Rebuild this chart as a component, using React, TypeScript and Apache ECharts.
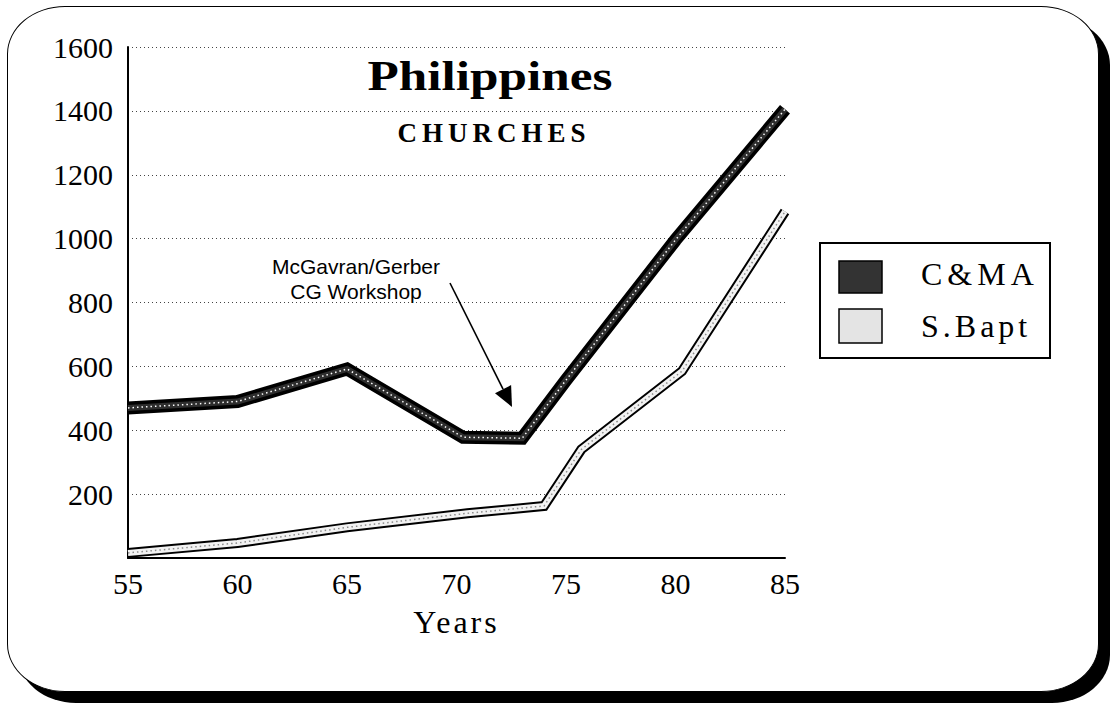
import React, { useEffect, useRef } from 'react';
import * as echarts from 'echarts';

// ---- data ----
const xTicks = [55, 60, 65, 70, 75, 80, 85];
const yTicks = [0, 200, 400, 600, 800, 1000, 1200, 1400, 1600];

const cmaYears = [55, 60, 65, 70.3, 73, 75, 80, 85];
const cmaChurches = [470, 490, 592, 378, 375, 557, 996, 1405];

const sbaptYears = [55, 60, 65, 70.5, 74, 75.7, 80.3, 85];
const sbaptChurches = [16, 47, 96, 140, 163, 340, 585, 1085];

const seriesNames = ['C&MA', 'S.Bapt'];
const titleText = 'Philippines';
const subtitleText = 'CHURCHES';
const xAxisName = 'Years';
const noteLines = ['McGavran/Gerber', 'CG Workshop'];

const SERIF = '"Liberation Serif", "Times New Roman", Times, serif';
const SANS = '"Liberation Sans", Arial, Helvetica, sans-serif';

const letterSpacing: Record<string, number> = {
  CHURCHES: 5,
  'C&MA': 5,
  'S.Bapt': 4,
  Years: 3,
};

function pairs(xs: number[], ys: number[]) {
  return xs.map((x, i) => [x, ys[i]]);
}

function applySpacing(root: HTMLElement) {
  root.querySelectorAll('svg text').forEach((t) => {
    const s = letterSpacing[(t.textContent || '').trim()];
    if (s !== undefined) (t as SVGTextElement).style.letterSpacing = s + 'px';
  });
}

export default function App() {
  const ref = useRef<HTMLDivElement>(null);

  useEffect(() => {
    const el = ref.current!;
    const chart = echarts.init(el, null, { renderer: 'svg' });

    const cma = pairs(cmaYears, cmaChurches);
    const sb = pairs(sbaptYears, sbaptChurches);

    const layer = (
      name: string,
      data: number[][],
      width: number,
      color: string,
      type: any,
      z: number
    ) => ({
      type: 'line',
      name,
      data,
      symbol: 'none',
      showSymbol: false,
      clip: false,
      silent: true,
      z,
      lineStyle: { width, color, type, join: 'miter', cap: 'butt', opacity: 1 },
      emphasis: { disabled: true },
    });

    // arrow geometry (annotation)
    const ax0 = 450, ay0 = 283, tipX = 512, tipY = 407;
    const dx = tipX - ax0, dy = tipY - ay0;
    const len = Math.sqrt(dx * dx + dy * dy);
    const ux = dx / len, uy = dy / len;
    const headL = 20, headW = 9;
    const bx = tipX - ux * headL, by = tipY - uy * headL;

    chart.setOption({
      animation: false,
      backgroundColor: 'transparent',
      grid: { left: 128, right: 329, top: 47, bottom: 146, containLabel: false },
      xAxis: {
        type: 'value',
        min: xTicks[0],
        max: xTicks[xTicks.length - 1],
        interval: xTicks[1] - xTicks[0],
        name: xAxisName,
        nameLocation: 'middle',
        nameGap: 48,
        nameTextStyle: { fontFamily: SERIF, fontSize: 32, color: '#000' },
        axisLine: { show: true, onZero: false, lineStyle: { color: '#000', width: 2 } },
        axisTick: { show: false },
        splitLine: { show: false },
        axisLabel: {
          fontFamily: SERIF,
          fontSize: 30,
          color: '#000',
          margin: 10,
          formatter: (v: number) => String(v),
        },
      },
      yAxis: {
        type: 'value',
        min: yTicks[0],
        max: yTicks[yTicks.length - 1],
        interval: yTicks[1] - yTicks[0],
        axisLine: { show: true, lineStyle: { color: '#000', width: 2 } },
        axisTick: { show: false },
        axisLabel: {
          fontFamily: SERIF,
          fontSize: 30,
          color: '#000',
          margin: 15,
          showMinLabel: false,
          formatter: (v: number) => (v === 0 ? '' : String(v)),
        },
        splitLine: { show: true, lineStyle: { color: '#444', width: 1, type: [1, 3] } },
      },
      series: [
        layer(seriesNames[1], sb, 10, '#000', 'solid', 3),
        layer(seriesNames[1] + ' fill', sb, 6, '#f2f2f2', 'solid', 4),
        layer(seriesNames[1] + ' dots', sb, 1.5, '#8a8a8a', [1.5, 3], 5),
        layer(seriesNames[0], cma, 13, '#000', 'solid', 6),
        layer(seriesNames[0] + ' fill', cma, 6, '#2e2e2e', 'solid', 7),
        layer(seriesNames[0] + ' dots', cma, 1.5, '#ffffff', [1.5, 3], 8),
      ],
      graphic: [
        {
          type: 'text',
          x: 490,
          y: 76,
          scaleX: 1.22,
          z: 100,
          style: {
            text: titleText,
            fontFamily: SERIF,
            fontSize: 42,
            fontWeight: 'bold',
            fill: '#000',
            align: 'center',
            verticalAlign: 'middle',
          },
        },
        {
          type: 'text',
          x: 494,
          y: 133,
          z: 100,
          style: {
            text: subtitleText,
            fontFamily: SERIF,
            fontSize: 27,
            fontWeight: 'bold',
            fill: '#000',
            align: 'center',
            verticalAlign: 'middle',
          },
        },
        {
          type: 'text',
          x: 356,
          y: 266,
          z: 100,
          style: {
            text: noteLines[0],
            fontFamily: SANS,
            fontSize: 21,
            fill: '#000',
            align: 'center',
            verticalAlign: 'middle',
          },
        },
        {
          type: 'text',
          x: 356,
          y: 291,
          z: 100,
          style: {
            text: noteLines[1],
            fontFamily: SANS,
            fontSize: 21,
            fill: '#000',
            align: 'center',
            verticalAlign: 'middle',
          },
        },
        {
          type: 'line',
          z: 100,
          shape: { x1: ax0, y1: ay0, x2: bx, y2: by },
          style: { stroke: '#000', lineWidth: 1.6 },
        },
        {
          type: 'polygon',
          z: 100,
          shape: {
            points: [
              [tipX, tipY],
              [bx - uy * headW, by + ux * headW],
              [bx + uy * headW, by - ux * headW],
            ],
          },
          style: { fill: '#000' },
        },
        // legend box
        {
          type: 'rect',
          z: 100,
          shape: { x: 820, y: 243, width: 230, height: 115 },
          style: { fill: '#fff', stroke: '#000', lineWidth: 2 },
        },
        {
          type: 'rect',
          z: 101,
          shape: { x: 839, y: 261, width: 43, height: 32 },
          style: { fill: '#333333', stroke: '#000', lineWidth: 1.5 },
        },
        {
          type: 'rect',
          z: 101,
          shape: { x: 839, y: 309, width: 43, height: 34 },
          style: { fill: '#e4e4e4', stroke: '#000', lineWidth: 1.5 },
        },
        {
          type: 'text',
          x: 921,
          y: 274,
          z: 101,
          style: {
            text: seriesNames[0],
            fontFamily: SERIF,
            fontSize: 32,
            fill: '#000',
            align: 'left',
            verticalAlign: 'middle',
          },
        },
        {
          type: 'text',
          x: 921,
          y: 326,
          z: 101,
          style: {
            text: seriesNames[1],
            fontFamily: SERIF,
            fontSize: 32,
            fill: '#000',
            align: 'left',
            verticalAlign: 'middle',
          },
        },
      ],
    });

    applySpacing(el);
    const onFinished = () => applySpacing(el);
    chart.on('finished', onFinished);
    const raf = requestAnimationFrame(() => applySpacing(el));

    return () => {
      cancelAnimationFrame(raf);
      chart.off('finished', onFinished);
      chart.dispose();
    };
  }, []);

  return (
    <div style={{ position: 'fixed', left: 0, top: 0, width: 1114, height: 704, background: '#fff' }}>
      <div
        style={{
          position: 'absolute',
          left: 7,
          top: 6,
          width: 1092,
          height: 686,
          boxSizing: 'border-box',
          border: '1.5px solid #000',
          borderRadius: '58px / 48px',
          boxShadow: '11px 11px 0 0 #000',
          background: '#fff',
        }}
      />
      <div ref={ref} style={{ position: 'absolute', left: 0, top: 0, width: 1114, height: 704 }} />
    </div>
  );
}
